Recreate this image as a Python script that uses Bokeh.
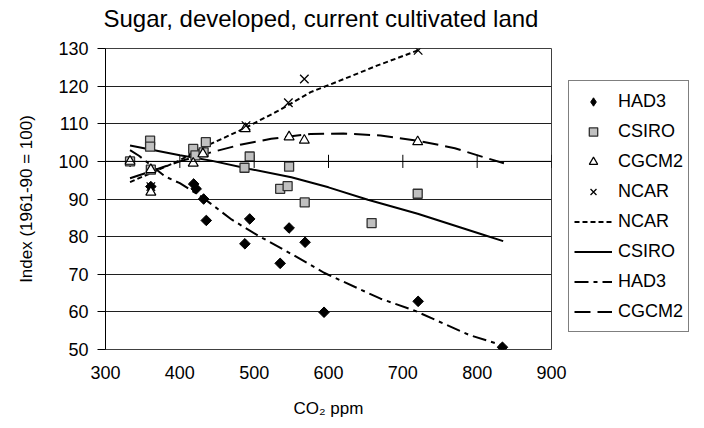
import math
from bokeh.plotting import figure
from bokeh.models import Span, Legend, LegendItem, FixedTicker, Range1d, ColumnDataSource, Title
from bokeh.embed import file_html
from bokeh.resources import INLINE

# ---- data ----
x_ticks = [300, 400, 500, 600, 700, 800, 900]
y_ticks = [50, 60, 70, 80, 90, 100, 110, 120, 130]
y_cross = 100

had3_x = [333, 361, 418.6, 422, 432, 435.6, 487.5, 494, 535, 547, 568.5, 594, 720.6, 834]
had3_y = [100, 93.3, 94.0, 92.7, 90.0, 84.3, 78.1, 84.7, 72.9, 82.3, 78.5, 59.9, 62.8, 50.6]

csiro_x = [333, 360, 360, 361, 418, 421, 432, 435, 487, 494, 535, 545, 547, 568, 658, 720]
csiro_y = [100, 105.5, 103.9, 97.8, 103.3, 101.6, 102.4, 105.1, 98.3, 101.3, 92.7, 93.4, 98.6, 89.1, 83.6, 91.4]

cgcm2_x = [333, 361, 361, 418, 431, 488, 547, 567.5, 720]
cgcm2_y = [100, 97.8, 91.8, 99.5, 102.0, 108.7, 106.5, 105.6, 105.2]

ncar_x = [361, 489, 546, 567.5, 720.6]
ncar_y = [93.3, 109.5, 115.6, 121.9, 129.5]

ncar_fit_x = [333, 360, 400, 440, 483, 532, 576, 621, 666, 711, 720]
ncar_fit_y = [94.5, 96.8, 100.3, 104.5, 108.4, 113.4, 118.4, 121.9, 125.5, 128.8, 129.5]

csiro_fit_x = [333, 400, 442, 494, 550, 600, 653, 720, 805, 835]
csiro_fit_y = [104.2, 101.6, 100.2, 98.0, 95.8, 93.1, 89.8, 86.1, 80.7, 78.8]

had3_fit_x = [333, 345, 380, 400, 430, 470, 505, 550, 594, 670, 715, 790, 834]
had3_fit_y = [103.0, 101.5, 96.0, 94.2, 90.5, 84.5, 80.3, 75.4, 70.4, 63.5, 60.4, 53.8, 51.1]

cgcm2_fit_x = [333, 360, 400, 442, 483, 523, 576, 620, 670, 720, 770, 809, 836]
cgcm2_fit_y = [95.5, 97.3, 100.0, 102.4, 104.5, 106.0, 107.3, 107.4, 106.9, 105.5, 103.5, 101.1, 99.5]

title_text = "Sugar, developed, current cultivated land"
x_label = "CO\u2082 ppm"
y_label = "Index (1961-90 = 100)"

FONT = "Liberation Sans"

p = figure(frame_width=446, frame_height=301, output_backend="svg", toolbar_location=None,
           title=None,
           x_range=Range1d(300, 900), y_range=Range1d(50, 130),
           min_border_left=105, min_border_right=10, min_border_top=48, min_border_bottom=79,
           background_fill_color="white", border_fill_color="white")

# spacer between plot frame and title (keeps title near the top edge)
p.add_layout(Title(text=" ", text_font=FONT, text_font_size="1px", standoff=14), "above")
p.add_layout(Title(text=title_text, text_font=FONT, text_font_size="24px", text_font_style="normal",
                   align="left", offset=-2, standoff=0, text_color="black"), "above")

p.outline_line_color = "#404040"
p.outline_line_width = 1

p.xgrid.grid_line_color = None
p.ygrid.ticker = FixedTicker(ticks=y_ticks)
p.ygrid.grid_line_color = "#202020"
p.ygrid.grid_line_width = 1

p.xaxis.ticker = FixedTicker(ticks=x_ticks)
p.xaxis.axis_line_color = None
p.xaxis.major_tick_line_color = None
p.xaxis.major_tick_out = 0
p.xaxis.major_tick_in = 0
p.xaxis.minor_tick_line_color = None
p.xaxis.major_label_standoff = 16
p.xaxis.axis_label = x_label
p.xaxis.axis_label_standoff = 17

p.yaxis.ticker = FixedTicker(ticks=y_ticks)
p.yaxis.axis_line_color = "black"
p.yaxis.major_tick_line_color = "black"
p.yaxis.major_tick_out = 8
p.yaxis.major_tick_in = 0
p.yaxis.minor_tick_line_color = None
p.yaxis.major_label_standoff = 9
p.yaxis.axis_label = y_label
p.yaxis.axis_label_standoff = 19

for ax in (p.xaxis, p.yaxis):
    ax.major_label_text_font = FONT
    ax.major_label_text_font_size = "18px"
    ax.major_label_text_color = "black"
    ax.axis_label_text_font = FONT
    ax.axis_label_text_font_size = "17px"
    ax.axis_label_text_font_style = "normal"
    ax.axis_label_text_color = "black"

# horizontal axis crossing at 100 with its tick marks
p.add_layout(Span(location=y_cross, dimension="width", line_color="black", line_width=1))
p.segment(x0=x_ticks, y0=[y_cross - 1.75] * len(x_ticks), x1=x_ticks, y1=[y_cross + 1.75] * len(x_ticks),
          line_color="black", line_width=1)

# fitted lines
r_ncar_l = p.line(ncar_fit_x, ncar_fit_y, line_color="black", line_width=2, line_dash="5 3")
r_csiro_l = p.line(csiro_fit_x, csiro_fit_y, line_color="black", line_width=2)
r_had3_l = p.line(had3_fit_x, had3_fit_y, line_color="black", line_width=2, line_dash="14 5 4 5")
r_cgcm2_l = p.line(cgcm2_fit_x, cgcm2_fit_y, line_color="black", line_width=2, line_dash="16 7")

# points (HAD3: diamond key drawn underneath the square-diamonds, used for the legend)
r_had3 = p.scatter(had3_x, had3_y, marker="diamond", size=9, fill_color="black", line_color="black")
had3_src = ColumnDataSource(dict(x=had3_x, y=had3_y, a=[math.pi / 4] * len(had3_x)))
p.scatter("x", "y", source=had3_src, marker="square", angle="a", size=7.5,
          fill_color="black", line_color="black")
r_csiro = p.scatter(csiro_x, csiro_y, marker="square", size=9,
                    fill_color="#c0c0c0", line_color="#303030", line_width=1.3)
r_cgcm2 = p.scatter(cgcm2_x, cgcm2_y, marker="triangle", size=10,
                    fill_color="white", line_color="black", line_width=1.2)
r_ncar = p.scatter(ncar_x, ncar_y, marker="x", size=12, line_color="black", line_width=1.3)

items = [
    LegendItem(label="HAD3", renderers=[r_had3]),
    LegendItem(label="CSIRO", renderers=[r_csiro]),
    LegendItem(label="CGCM2", renderers=[r_cgcm2]),
    LegendItem(label="NCAR", renderers=[r_ncar]),
    LegendItem(label="NCAR", renderers=[r_ncar_l]),
    LegendItem(label="CSIRO", renderers=[r_csiro_l]),
    LegendItem(label="HAD3", renderers=[r_had3_l]),
    LegendItem(label="CGCM2", renderers=[r_cgcm2_l]),
]
legend = Legend(items=items, location="bottom_left", margin=17, padding=5, spacing=0,
                glyph_width=38, glyph_height=21, label_height=30, label_standoff=6,
                label_text_font=FONT, label_text_font_size="18px", label_text_color="black",
                border_line_color="black", border_line_width=1,
                background_fill_color="white", background_fill_alpha=1)
p.add_layout(legend, "right")

open("out.html", "w").write(file_html(p, INLINE))
